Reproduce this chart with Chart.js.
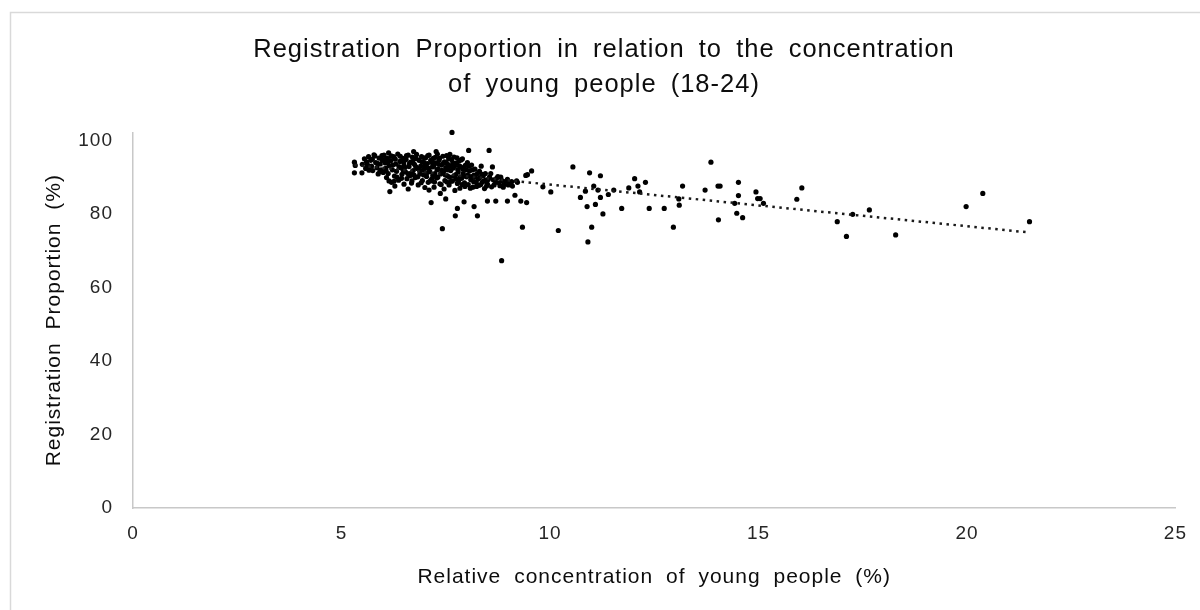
<!DOCTYPE html>
<html>
<head>
<meta charset="utf-8">
<script src="https://cdn.jsdelivr.net/npm/chart.js@4.4.1/dist/chart.umd.min.js"></script>
<style>
  html, body { margin: 0; padding: 0; background: #ffffff; }
  #wrap { width: 1200px; height: 610px; position: relative; }
</style>
</head>
<body>
<div id="wrap"><canvas id="c" width="1200" height="610"></canvas></div>
<script>
// ---- Data ----
const titleLines = ["Registration Proportion in relation to the concentration", "of young people (18-24)"];
const xAxisTitle = "Relative concentration of young people (%)";
const yAxisTitle = "Registration Proportion (%)";
const xTicks = [0, 5, 10, 15, 20, 25];
const yTicks = [0, 20, 40, 60, 80, 100];

// Relative concentration of young people (%)
const youngShare = [
  5.31, 5.31, 5.33, 5.49, 5.50, 5.55, 5.60, 5.58,
  5.65, 5.70, 5.72, 5.75, 5.80, 5.82, 5.85, 5.88, 5.90, 5.93, 5.95, 5.98, 6.00, 5.78, 5.68,
  6.02, 6.05, 6.06, 6.08, 6.10, 6.12, 6.15, 6.16, 6.18, 6.20, 6.22, 6.25, 6.27, 6.30, 6.32, 6.35, 6.37, 6.40, 6.42, 6.45, 6.47, 6.50, 6.50, 6.28, 6.13,
  6.53, 6.55, 6.57, 6.60, 6.62, 6.64, 6.66, 6.68, 6.70, 6.72, 6.75, 6.77, 6.80, 6.82, 6.84, 6.86, 6.88, 6.90, 6.92, 6.94, 6.96, 6.98, 7.00, 7.00, 6.60, 6.73,
  7.02, 7.04, 7.06, 7.08, 7.10, 7.12, 7.14, 7.15, 7.16, 7.18, 7.20, 7.22, 7.24, 7.26, 7.28, 7.30, 7.32, 7.34, 7.36, 7.37, 7.38, 7.40, 7.42, 7.43, 7.45, 7.46, 7.47, 7.48, 7.50, 7.50, 7.10, 7.27,
  7.52, 7.54, 7.56, 7.58, 7.60, 7.62, 7.64, 7.65, 7.66, 7.68, 7.70, 7.72, 7.73, 7.74, 7.76, 7.78, 7.78, 7.80, 7.82, 7.84, 7.86, 7.88, 7.90, 7.92, 7.94, 7.95, 7.97, 8.00,
  8.02, 8.05, 8.04, 8.07, 8.10, 8.12, 8.15, 8.18, 8.18, 8.20, 8.23, 8.26, 8.26, 8.30, 8.32, 8.35, 8.38, 8.40, 8.43, 8.46, 8.50, 8.50,
  8.54, 8.55, 8.60, 8.62, 8.64, 8.70, 8.70, 8.75, 8.80, 8.84, 8.85, 8.90, 8.98, 8.98, 9.05, 9.10, 9.16, 9.20, 9.22, 9.30, 9.34, 9.42, 9.44, 9.46, 9.56,
  9.83, 10.02, 10.20, 10.55, 10.73, 10.85, 10.89, 10.95, 10.91, 11.00, 11.05, 11.09, 11.15, 11.21, 11.21, 11.27, 11.40, 11.53, 11.72, 11.89,
  12.03, 12.11, 12.15, 12.29, 12.38, 12.74, 12.96, 13.09, 13.10, 13.18, 13.72, 13.86, 14.03, 14.08, 14.04, 14.43, 14.48, 14.52, 14.52, 14.62,
  14.94, 14.98, 15.04, 15.12, 15.92, 16.04, 16.89, 17.11, 17.26, 17.66, 18.29, 19.98, 20.38, 21.50,
  5.62, 5.66, 5.74, 5.86, 5.92, 5.97,
  6.03, 6.07, 6.11, 6.14, 6.19, 6.23, 6.26, 6.29, 6.33, 6.38, 6.41, 6.44, 6.48, 6.49,
  6.52, 6.56, 6.59, 6.63, 6.67, 6.69, 6.71, 6.74, 6.78, 6.79, 6.83, 6.87, 6.91, 6.93, 6.97, 6.99,
  7.01, 7.05, 7.07, 7.09, 7.13, 7.17, 7.19, 7.21, 7.23, 7.25, 7.29, 7.31, 7.33, 7.35, 7.39, 7.41, 7.44, 7.49,
  7.51, 7.53, 7.55, 7.57, 7.59, 7.61, 7.63, 7.67, 7.69, 7.71, 7.75, 7.77, 7.79, 7.81, 7.83, 7.85, 7.87, 7.89, 7.91, 7.93, 7.96, 7.99,
  8.03, 8.06, 8.09, 8.11, 8.14, 8.17, 8.21, 8.24, 8.28, 8.31, 8.34, 8.37, 8.42, 8.45, 8.48,
  8.52, 8.58, 8.66, 8.72, 8.78, 8.82, 8.88, 8.94, 9.00, 9.08
];

// Registration proportion (%)
const registration = [
  94.1, 91.2, 93.2, 91.2, 93.5, 95.0, 94.2, 92.4,
  95.6, 94.6, 93.0, 91.8, 95.8, 94.0, 92.6, 90.9, 95.2, 93.6, 92.0, 94.6, 91.3, 96.1, 92.9,
  96.0, 93.9, 92.4, 89.9, 95.1, 91.0, 93.1, 86.1, 94.5, 88.6, 92.0, 95.6, 90.3, 93.6, 91.6, 96.3, 89.2, 94.3, 92.6, 90.8, 95.1, 93.2, 88.1, 87.6, 96.6,
  91.5, 94.8, 89.6, 96.0, 92.9, 90.4, 94.1, 88.4, 95.5, 91.8, 93.5, 89.9, 96.2, 92.4, 87.9, 94.6, 90.9, 93.0, 95.6, 89.1, 91.9, 94.0, 92.5, 87.2, 86.8, 97.0,
  95.3, 90.2, 93.7, 88.6, 96.0, 91.5, 94.6, 83.1, 89.5, 92.8, 95.1, 87.3, 91.0, 93.9, 89.8, 96.3, 92.2, 94.7, 88.2, 85.6, 90.9, 93.3, 76.0, 95.7, 91.6, 86.8, 94.2, 89.1, 84.1, 92.6, 86.5, 97.0,
  95.9, 90.4, 93.4, 87.9, 96.2, 91.8, 94.8, 102.2, 89.0, 92.5, 95.5, 86.4, 79.5, 90.7, 93.9, 81.5, 88.3, 91.4, 94.4, 87.0, 92.8, 89.7, 95.0, 91.0, 83.3, 88.5, 93.2, 90.1,
  94.0, 97.3, 88.0, 91.7, 89.3, 93.3, 87.3, 82.0, 90.6, 92.2, 88.6, 79.5, 91.0, 87.8, 89.9, 93.0, 88.7, 90.4, 86.9, 89.2, 83.5, 88.1,
  97.3, 90.0, 87.4, 92.8, 89.3, 83.5, 88.6, 90.2, 87.7, 67.3, 89.1, 88.0, 83.5, 89.4, 88.3, 87.6, 85.1, 89.0, 88.6, 83.5, 76.4, 90.5, 83.1, 90.7, 91.7,
  87.4, 86.0, 75.5, 92.8, 84.5, 86.2, 82.0, 91.2, 72.4, 76.4, 87.6, 82.6, 86.5, 90.4, 84.5, 80.0, 85.3, 86.5, 81.5, 87.1,
  89.6, 87.6, 86.0, 88.6, 81.5, 81.5, 76.4, 84.1, 82.4, 87.6, 86.5, 94.1, 87.6, 87.6, 78.4, 82.9, 80.2, 88.6, 85.0, 79.0,
  86.0, 84.2, 84.2, 82.9, 84.0, 87.1, 77.9, 73.9, 79.9, 81.1, 74.3, 82.0, 85.6, 77.9,
  93.4, 91.9, 94.9, 93.8, 91.5, 95.9,
  94.8, 91.7, 93.9, 89.0, 95.8, 93.3, 88.9, 94.9, 90.0, 92.9, 95.7, 89.7, 91.9, 94.1,
  92.7, 95.9, 91.0, 93.7, 91.1, 89.0, 94.3, 90.6, 92.9, 95.1, 90.1, 92.0, 88.5, 94.2, 90.6, 95.2,
  93.1, 91.2, 95.9, 92.4, 89.0, 94.0, 90.5, 93.0, 88.7, 95.4, 92.0, 90.0, 93.5, 95.1, 88.0, 91.9, 93.8, 90.6,
  94.0, 88.7, 92.0, 95.0, 90.0, 93.0, 88.9, 94.0, 90.3, 93.0, 89.5, 95.3, 92.0, 89.0, 93.0, 90.0, 94.7, 88.0, 92.2, 90.3, 87.5, 92.0,
  90.6, 93.0, 87.0, 90.2, 92.0, 88.8, 90.0, 87.5, 89.5, 91.6, 88.0, 90.8, 89.0, 91.0, 87.6,
  89.4, 91.0, 87.9, 89.7, 88.5, 90.0, 87.3, 88.9, 87.9, 88.8
];

// ---- Build library structures ----
const points = youngShare.map((x, i) => ({ x: x, y: registration[i] }));

// Linear (least squares) trendline, as in the original spreadsheet chart
const n = points.length;
let sx = 0, sy = 0, sxx = 0, sxy = 0;
points.forEach(p => { sx += p.x; sy += p.y; sxx += p.x * p.x; sxy += p.x * p.y; });
const slope = (n * sxy - sx * sy) / (n * sxx - sx * sx);
const intercept = (sy - slope * sx) / n;
const xMin = Math.min(...youngShare), xMax = Math.max(...youngShare);
const trend = [xMin, xMax].map(x => ({ x: x, y: intercept + slope * x }));

const FONT = "'Liberation Sans', Arial, sans-serif";

const framePlugin = {
  id: 'frame',
  beforeDraw(chart) {
    const ctx = chart.ctx;
    ctx.save();
    ctx.strokeStyle = '#d9d9d9';
    ctx.lineWidth = 1.5;
    ctx.beginPath();
    ctx.moveTo(10.5, 700);
    ctx.lineTo(10.5, 12.5);
    ctx.lineTo(1300, 12.5);
    ctx.stroke();
    ctx.restore();
    ctx.letterSpacing = '1px';
    ctx.wordSpacing = '6px';
  }
};

new Chart(document.getElementById('c'), {
  type: 'scatter',
  data: {
    datasets: [
      {
        label: 'Registration',
        data: points,
        backgroundColor: '#000000',
        borderWidth: 0,
        pointRadius: 2.6,
        pointHoverRadius: 2.6,
        clip: false,
        order: 1
      },
      {
        type: 'line',
        label: 'Trend',
        data: trend,
        borderColor: '#1a1a1a',
        borderWidth: 2.5,
        borderDash: [2.5, 4.5],
        pointRadius: 0,
        fill: false,
        order: 0
      }
    ]
  },
  options: {
    responsive: false,
    animation: false,
    devicePixelRatio: 1,
    layout: { padding: { left: 30, right: 22, top: 0, bottom: 0 } },
    plugins: {
      legend: { display: false },
      tooltip: { enabled: false },
      title: {
        display: true,
        text: titleLines,
        color: '#0d0d0d',
        font: { family: FONT, size: 25.5, weight: 'normal', lineHeight: 1.38 },
        padding: { top: 32, bottom: 30 }
      }
    },
    scales: {
      x: {
        type: 'linear',
        min: 0,
        max: 25,
        afterBuildTicks(scale) { scale.ticks = xTicks.map(v => ({ value: v })); },
        afterFit(scale) { scale.height = 102; },
        grid: { display: false, drawTicks: false },
        border: { display: true, color: '#c8c8c8', width: 1.5 },
        ticks: {
          padding: 14,
          color: '#262626',
          font: { family: FONT, size: 19 }
        },
        title: {
          display: true,
          text: xAxisTitle,
          color: '#0d0d0d',
          font: { family: FONT, size: 21 },
          padding: { top: 0, bottom: 20 }
        }
      },
      y: {
        type: 'linear',
        min: 0,
        max: 102.2,
        afterBuildTicks(scale) { scale.ticks = yTicks.map(v => ({ value: v })); },
        afterFit(scale) { scale.width = 103; },
        grid: { display: false, drawTicks: false },
        border: { display: true, color: '#c8c8c8', width: 1.5 },
        ticks: {
          padding: 20,
          color: '#262626',
          font: { family: FONT, size: 19 }
        },
        title: {
          display: true,
          text: yAxisTitle,
          color: '#0d0d0d',
          font: { family: FONT, size: 21 },
          padding: { top: 12, bottom: 0 }
        }
      }
    }
  },
  plugins: [framePlugin]
});
</script>
</body>
</html>
